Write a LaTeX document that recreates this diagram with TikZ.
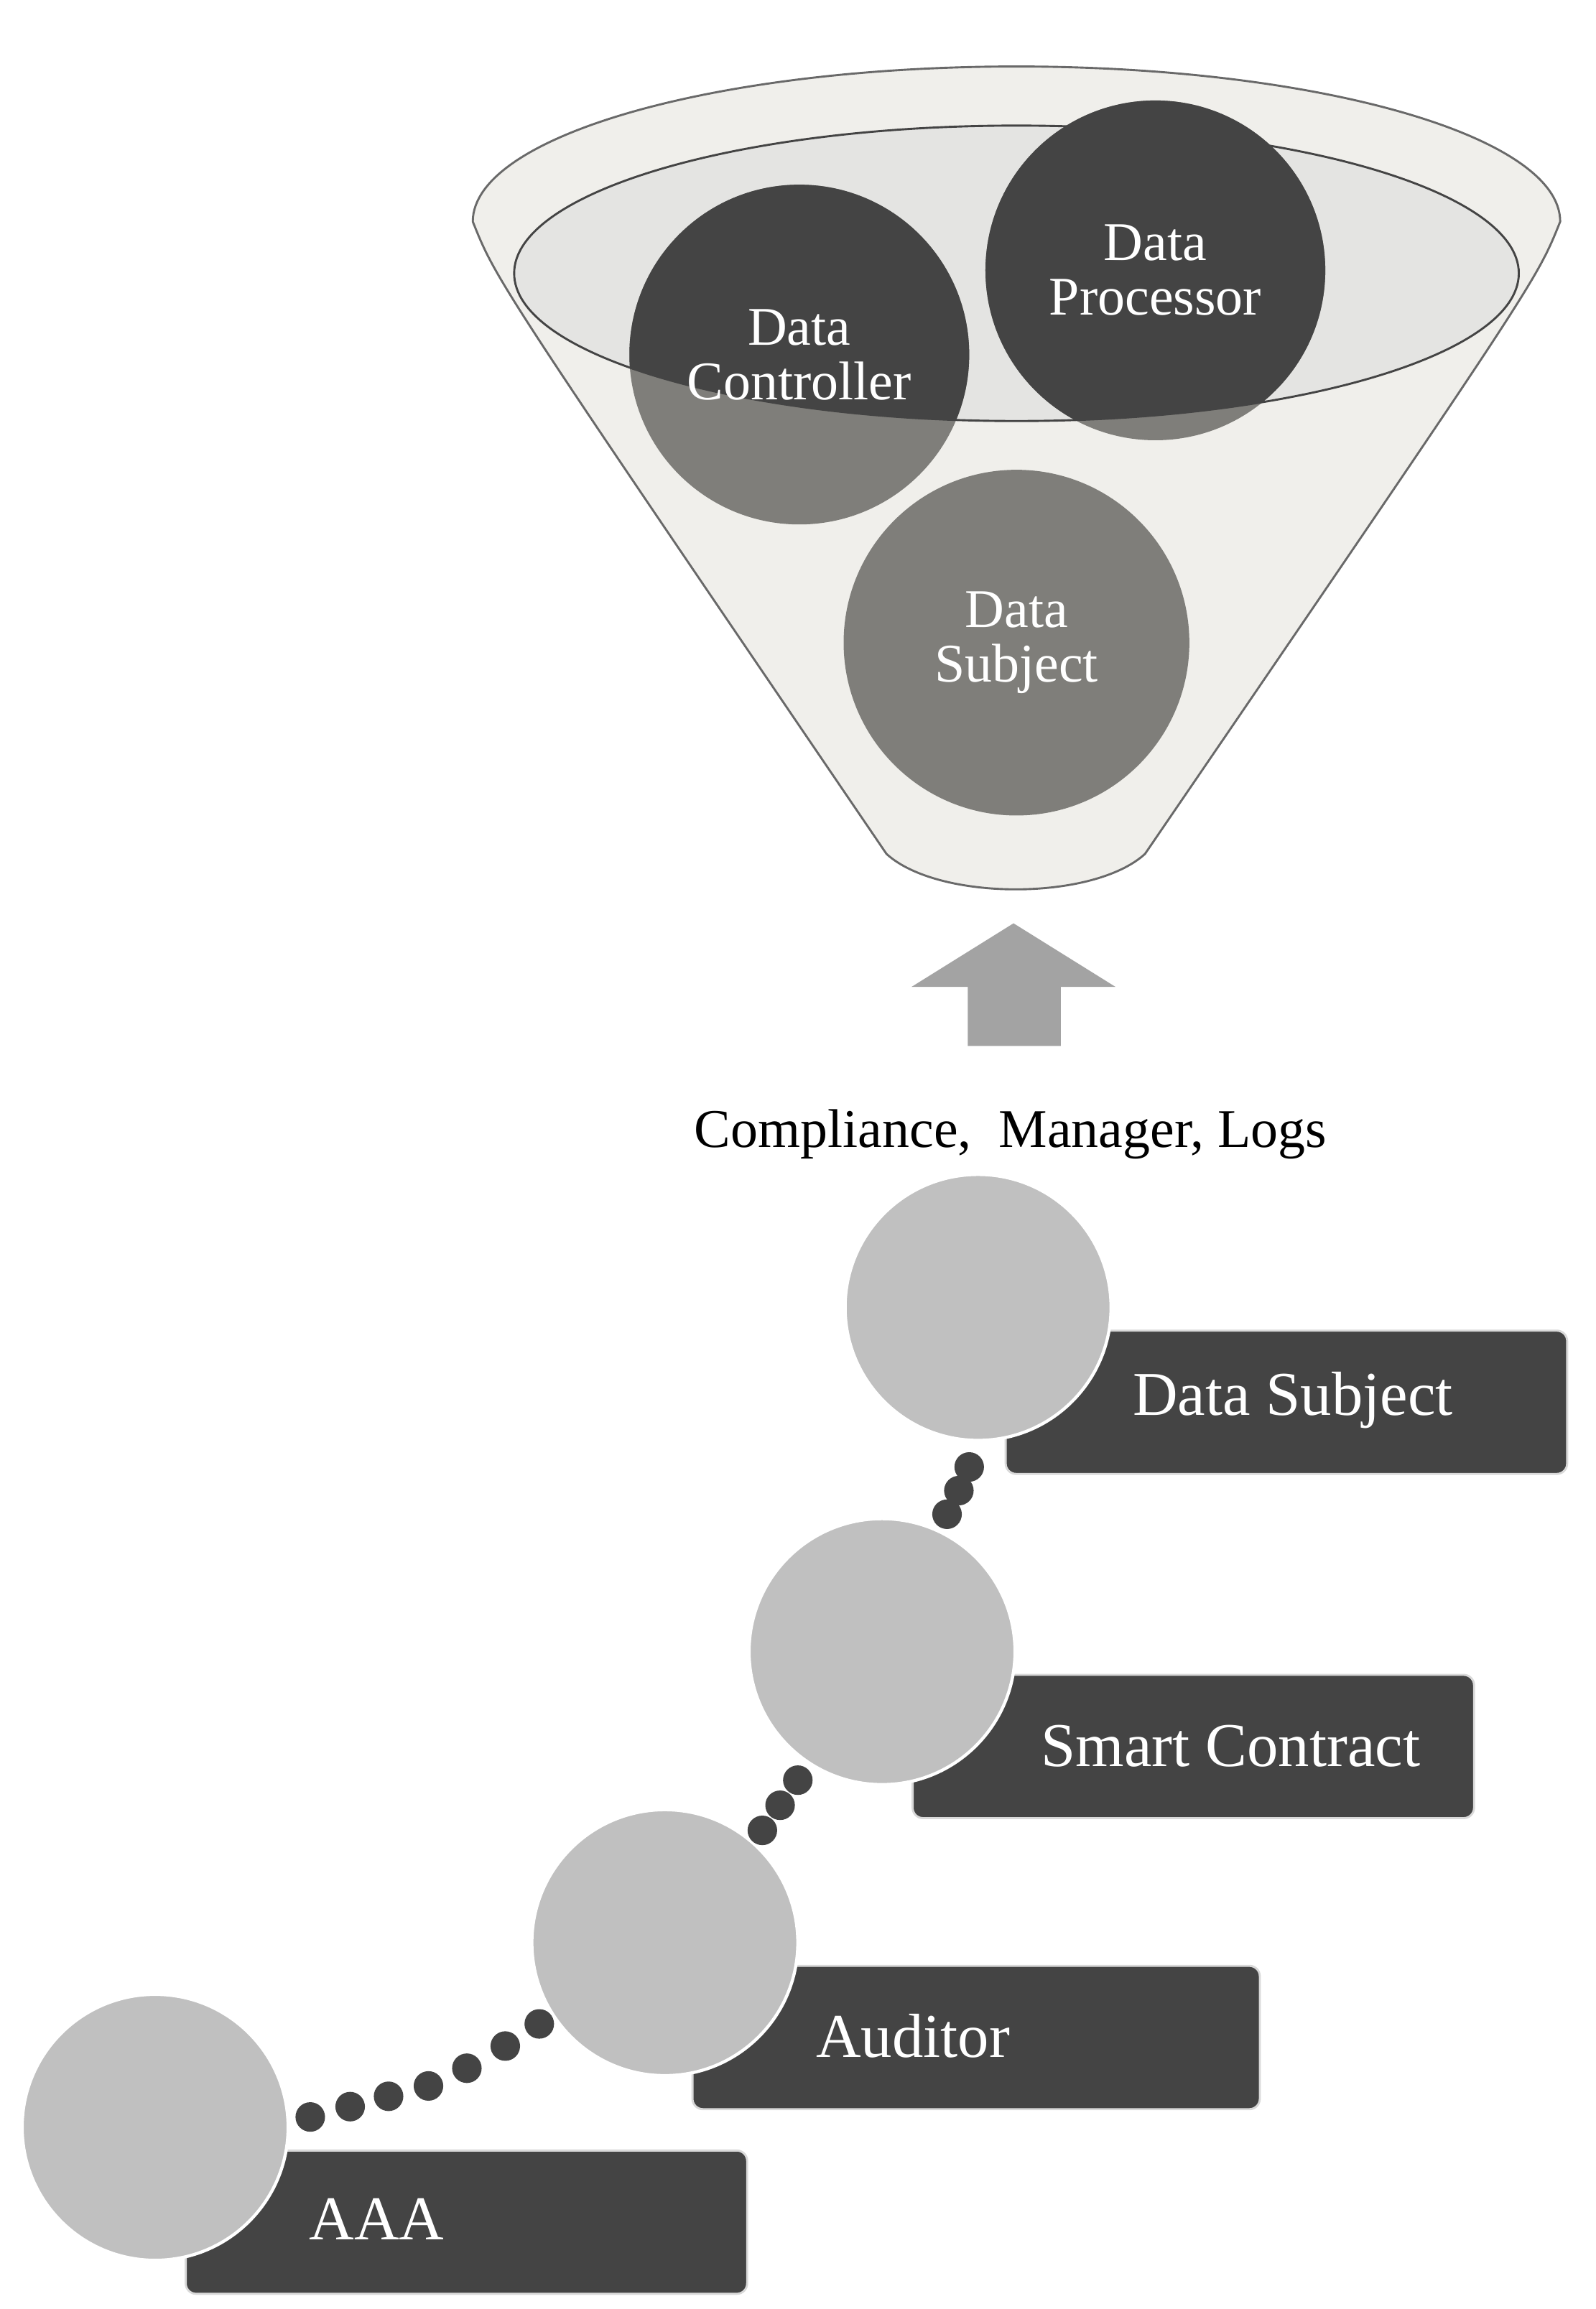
\documentclass[tikz,border=0pt]{standalone}
\usepackage{fontspec}
\setmainfont{Liberation Serif}
\definecolor{dk}{HTML}{444444}
\definecolor{md}{HTML}{7F7E7A}
\definecolor{lt}{HTML}{C0C0C0}
\definecolor{fun}{HTML}{F0EFEB}
\definecolor{inn}{HTML}{E4E4E2}
\def\u{0.02cm}
\begin{document}
\begin{tikzpicture}[x=0.02cm,y=-0.02cm,
  ball/.style={circle,fill=lt,draw=white,line width=1.2pt,minimum size={180*\u},inner sep=0pt},
  bar/.style={rounded corners=4pt,fill=dk,draw=lt!60,line width=0.8pt,minimum width={380*\u},minimum height={97*\u},inner sep=0pt},
  lbl/.style={text=white,font=\fontsize{24}{27}\selectfont},
  ftxt/.style={text=white,font=\fontsize{21}{21}\selectfont,align=center},
  dot/.style={circle,fill=dk,minimum size={20*\u},inner sep=0pt}]
\useasboundingbox (0,0) rectangle (1080,1563);
\fill[white] (0,0) rectangle (1080,1563);
% funnel
\draw[fill=fun,draw=dk!80,line width=0.8pt] (320,150) arc[start angle=180,end angle=360,x radius={368*\u},y radius={-105*\u}] .. controls (1040,190) .. (775,578) .. controls (740,610) and (635,610) .. (600,578) .. controls (336,190) .. (320,150) -- cycle;
\def\innpath{(688,185) ellipse[x radius={340*\u},y radius={100*\u}]}
\fill[inn] \innpath;
\fill[md] (541,240) circle[radius={115*\u}];
\fill[md] (782,183) circle[radius={115*\u}];
\begin{scope}
\clip (348,0) rectangle (1028,185) \innpath;
\fill[dk] (541,240) circle[radius={115*\u}];
\fill[dk] (782,183) circle[radius={115*\u}];
\end{scope}
\draw[dk,line width=0.8pt] \innpath;
\node[circle,fill=md,minimum size={234*\u},inner sep=0pt] (dsub) at (688,435) {};
\node[ftxt] (tctl) at (541,240) {Data\\Controller};
\node[ftxt] (tproc) at (782,183) {Data\\Processor};
\node[ftxt] (tsub) at (688,435) {Data\\Subject};
% arrow
\fill[lt!85!black] (655,708) -- (718,708) -- (718,668) -- (755,668) -- (686,625) -- (617,668) -- (655,668) -- cycle;
\node[font=\fontsize{21}{24}\selectfont] (cml) at (684,768) {Compliance,\ \ Manager, Logs};
% steps
\node[bar,anchor=north west] (r1) at (680,900) {};
\node[bar,anchor=north west] (r2) at (617,1133) {};
\node[bar,anchor=north west,minimum width={384*\u}] (r3) at (468,1330) {};
\node[bar,anchor=north west] (r4) at (125,1455) {};
\node[ball] (c1) at (662,885) {};
\node[ball] (c2) at (597,1118) {};
\node[ball] (c3) at (450,1315) {};
\node[ball] (c4) at (105,1440) {};
\node[lbl] (t1) at (875,948) {Data Subject};
\node[lbl] (t2) at (833,1182) {Smart Contract};
\node[lbl] (t3) at (618,1378) {Auditor};
\node[lbl] (t4) at (255,1502) {AAA};
% dots
\foreach \p [count=\i] in {(656,993),(649,1009),(641,1025)} \node[dot] (da\i) at \p {};
\foreach \p [count=\i] in {(540,1205),(528,1222),(516,1239)} \node[dot] (db\i) at \p {};
\foreach \p [count=\i] in {(210,1433),(237,1426),(263,1419),(290,1412),(316,1400),(342,1385),(365,1370)} \node[dot] (dc\i) at \p {};
\end{tikzpicture}
\end{document}
